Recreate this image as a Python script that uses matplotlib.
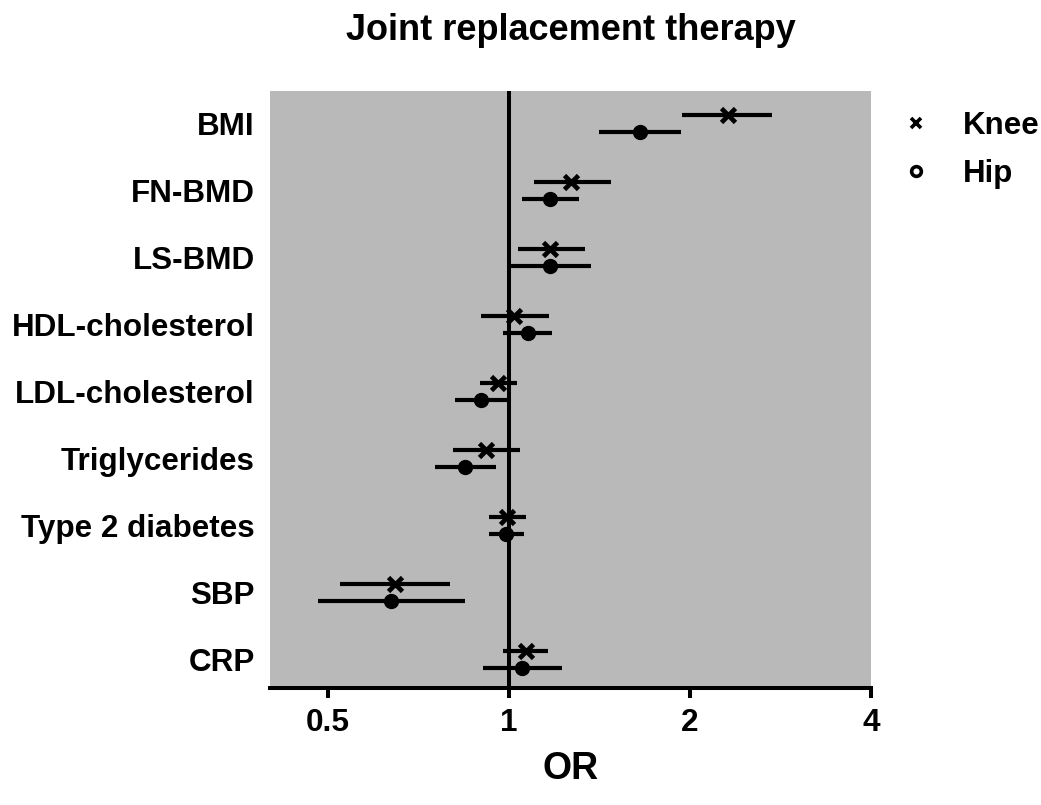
import matplotlib
matplotlib.use("Agg")
import matplotlib.pyplot as plt
from matplotlib.lines import Line2D
import numpy as np

plt.rcParams['font.family'] = ['Liberation Sans', 'DejaVu Sans']
plt.rcParams['font.weight'] = 'bold'

categories = ["BMI", "FN-BMD", "LS-BMD", "HDL-cholesterol", "LDL-cholesterol",
              "Triglycerides", "Type 2 diabetes", "SBP", "CRP"]

knee_or = [2.31, 1.27, 1.17, 1.02, 0.96, 0.916, 0.991, 0.646, 1.066]
knee_lo = [1.94, 1.10, 1.035, 0.897, 0.894, 0.807, 0.925, 0.523, 0.979]
knee_hi = [2.74, 1.48, 1.34, 1.166, 1.032, 1.042, 1.066, 0.799, 1.16]

hip_or = [1.65, 1.17, 1.17, 1.075, 0.898, 0.845, 0.99, 0.637, 1.05]
hip_lo = [1.41, 1.05, 1.0, 0.976, 0.812, 0.753, 0.926, 0.481, 0.906]
hip_hi = [1.93, 1.31, 1.37, 1.18, 0.998, 0.952, 1.059, 0.846, 1.223]

xticks = [0.5, 1, 2, 4]
xtick_labels = ["0.5", "1", "2", "4"]

fig = plt.figure(figsize=(10.41, 8.05), dpi=100)
ax = fig.add_axes([270/1041, 1-688/805, (871-270)/1041, (688-91)/805])
ax.set_facecolor('#b9b9b9')

y = np.arange(len(categories))
off = 0.125

ax.axvline(1, color='black', lw=2.9, zorder=1)

kerr = [np.array(knee_or) - np.array(knee_lo), np.array(knee_hi) - np.array(knee_or)]
herr = [np.array(hip_or) - np.array(hip_lo), np.array(hip_hi) - np.array(hip_or)]

ax.errorbar(knee_or, y - off, xerr=kerr, fmt='x', color='black', ecolor='black',
            elinewidth=3.0, capsize=0, markersize=10.5, markeredgewidth=3.4, zorder=3)
ax.errorbar(hip_or, y + off, xerr=herr, fmt='o', color='black', ecolor='black',
            elinewidth=3.0, capsize=0, markersize=10, zorder=3)

ax.set_xscale('log')
ax.set_xlim(0.4005, 4)
ax.set_ylim(8.43, -0.49)
ax.set_xticks(xticks)
ax.set_xticklabels(xtick_labels)
ax.xaxis.set_minor_locator(matplotlib.ticker.NullLocator())
ax.set_yticks(y)
ax.set_yticklabels(categories)

for s in ['top', 'right', 'left']:
    ax.spines[s].set_visible(False)
ax.spines['bottom'].set_linewidth(2.9)
ax.tick_params(axis='x', length=7.5, width=2.9, pad=7, labelsize=22.7)
ax.tick_params(axis='y', length=0, pad=11, labelsize=22.6)
for lab in ax.get_xticklabels() + ax.get_yticklabels():
    lab.set_fontweight('bold')

ax.set_xlabel('OR', fontsize=27, fontweight='bold', labelpad=9)
ax.set_title('Joint replacement therapy', fontsize=26, fontweight='bold', pad=37)

handles = [Line2D([], [], linestyle='none', marker='x', color='black', markersize=7.5, markeredgewidth=2.6),
           Line2D([], [], linestyle='none', marker='o', markerfacecolor='white',
                  markeredgecolor='black', markersize=7, markeredgewidth=2.6)]
fig.legend(handles, ['Knee', 'Hip'], loc='upper left', bbox_to_anchor=(900/1041, 1-111/805),
           frameon=False, handlelength=1.0, handletextpad=1.0,
           labelspacing=0.56, borderaxespad=0, borderpad=0,
           prop={'weight': 'bold', 'size': 22.5})

fig.savefig('out.png', dpi=100)
